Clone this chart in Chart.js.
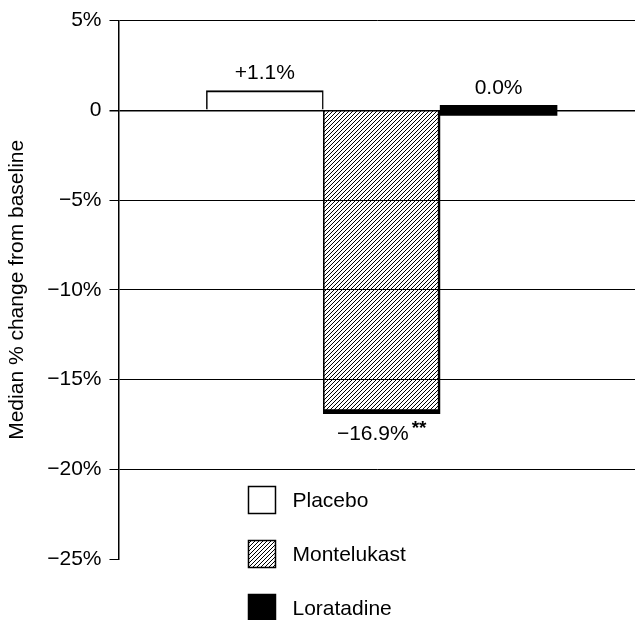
<!DOCTYPE html>
<html>
<head>
<meta charset="utf-8">
<script src="https://cdn.jsdelivr.net/npm/chart.js@4.4.1/dist/chart.umd.min.js"></script>
<style>
  html, body { margin: 0; padding: 0; background: #fff; }
  canvas { display: block; }
</style>
</head>
<body>
<canvas id="myChart" width="639" height="620"></canvas>
<script>
const treatments = ['Placebo', 'Montelukast', 'Loratadine'];
const medianChange = [1.1, -16.9, 0.0];
const significance = ['', '**', ''];
const yTicks = [5, 0, -5, -10, -15, -20, -25];
const yTickLabels = ['5%', '0', '\u22125%', '\u221210%', '\u221215%', '\u221220%', '\u221225%'];

const FONT = '"Liberation Sans", Arial, Helvetica, sans-serif';
const FS = 21;

// diagonal hatch used for Montelukast
const makeHatch = () => {
    const s = 4;
    const c = document.createElement('canvas');
    c.width = s;
    c.height = s;
    const g = c.getContext('2d');
    g.strokeStyle = '#000';
    g.lineWidth = 1;
    g.beginPath();
    g.moveTo(0, s); g.lineTo(s, 0);
    g.moveTo(-1, 1); g.lineTo(1, -1);
    g.moveTo(s - 1, s + 1); g.lineTo(s + 1, s - 1);
    g.stroke();
    return document.getElementById('myChart').getContext('2d').createPattern(c, 'repeat');
};
const hatch = makeHatch();
const fills = ['#fff', hatch, '#000'];
const borders = [
    { top: 2, left: 1.5, right: 1.5, bottom: 0 },
    { top: 0, left: 1, right: 2, bottom: 4 },
    0
];

const fmtValue = v => {
    if (v > 0) return '+' + v.toFixed(1) + '%';
    if (v < 0) return '\u2212' + Math.abs(v).toFixed(1) + '%';
    return v.toFixed(1) + '%';
};

const valueLabels = {
    id: 'valueLabels',
    afterDatasetsDraw(chart) {
        const { ctx } = chart;
        const meta = chart.getDatasetMeta(0);
        ctx.save();
        ctx.fillStyle = '#000';
        meta.data.forEach((el, i) => {
            const v = medianChange[i];
            const text = fmtValue(v);
            const top = Math.min(el.y, el.base);
            const bottom = Math.max(el.y, el.base);
            ctx.font = `${FS}px ${FONT}`;
            const w = ctx.measureText(text).width;
            ctx.font = `bold ${FS - 2}px ${FONT}`;
            const star = significance[i];
            const sw = star ? ctx.measureText(star).width + 3 : 0;
            const x0 = el.x - (w + sw) / 2;
            const y = v < 0 ? bottom + 10 : top - 7;
            ctx.textBaseline = v < 0 ? 'top' : 'bottom';
            ctx.textAlign = 'left';
            ctx.font = `${FS}px ${FONT}`;
            ctx.fillText(text, x0, y);
            if (star) {
                ctx.font = `bold ${FS - 2}px ${FONT}`;
                ctx.fillText(star, x0 + w + 3, y - 4);
            }
        });
        ctx.restore();
    }
};

const boxLegend = {
    id: 'boxLegend',
    afterDraw(chart) {
        const { ctx, chartArea } = chart;
        const x = chartArea.left + 130;
        const size = 27;
        ctx.save();
        treatments.forEach((name, i) => {
            const cy = chartArea.bottom - 59 + i * 54;
            ctx.fillStyle = fills[i];
            ctx.fillRect(x, cy - size / 2, size, size);
            ctx.strokeStyle = '#000';
            ctx.lineWidth = 1.5;
            ctx.strokeRect(x, cy - size / 2, size, size);
            ctx.fillStyle = '#000';
            ctx.font = `${FS}px ${FONT}`;
            ctx.textBaseline = 'middle';
            ctx.textAlign = 'left';
            ctx.fillText(name, x + 44, cy + 1);
        });
        ctx.restore();
    }
};

const ctx = document.getElementById('myChart').getContext('2d');
const chart = new Chart(ctx, {
    type: 'bar',
    data: {
        datasets: [{
            label: 'Median % change from baseline',
            data: medianChange.map((v, i) => ({ x: i + 1, y: v })),
            backgroundColor: fills,
            borderColor: '#000',
            borderWidth: c => borders[c.dataIndex],
            borderSkipped: false,
            minBarLength: 10,
            barPercentage: 1,
            categoryPercentage: 1
        }]
    },
    options: {
        responsive: false,
        animation: false,
        layout: { padding: { top: 18, right: 4, bottom: 61, left: 5 } },
        plugins: {
            legend: { display: false },
            tooltip: { enabled: false }
        },
        scales: {
            x: {
                type: 'linear',
                display: false,
                offset: false,
                grid: { offset: false },
                min: -0.252,
                max: 4.167,
                afterBuildTicks: s => { s.ticks = treatments.map((t, i) => ({ value: i + 1 })); }
            },
            y: {
                min: -25,
                max: 5,
                afterBuildTicks: s => { s.ticks = yTicks.map(v => ({ value: v })); },
                ticks: {
                    color: '#000',
                    padding: 8,
                    font: { family: FONT, size: FS },
                    callback: v => yTickLabels[yTicks.indexOf(v)]
                },
                grid: {
                    color: c => (c.tick && c.tick.value === -25) ? 'rgba(0,0,0,0)' : '#000',
                    tickColor: '#000',
                    lineWidth: c => (c.tick && c.tick.value === 0) ? 1.5 : 1,
                    tickLength: 9
                },
                border: { color: '#000', width: 1.5 },
                title: {
                    display: true,
                    text: 'Median % change from baseline',
                    color: '#000',
                    font: { family: FONT, size: FS },
                    padding: { top: 0, bottom: 9 }
                }
            }
        }
    },
    plugins: [valueLabels, boxLegend]
});
</script>
</body>
</html>
